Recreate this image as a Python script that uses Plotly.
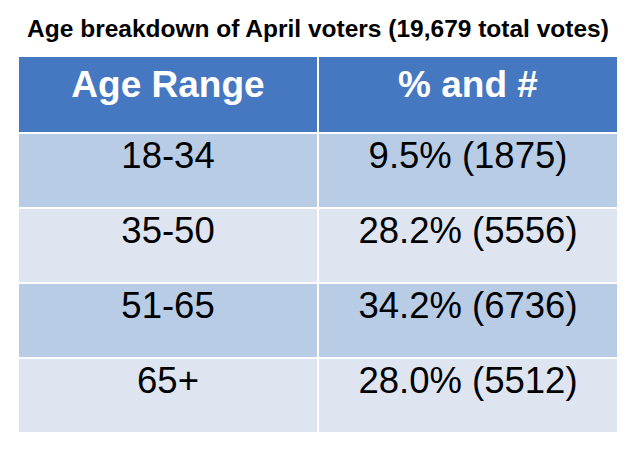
import plotly.graph_objects as go

title = "Age breakdown of April voters (19,679 total votes)"
headers = ["Age Range", "% and #"]
age_ranges = ["18-34", "35-50", "51-65", "65+"]
shares = ["9.5% (1875)", "28.2% (5556)", "34.2% (6736)", "28.0% (5512)"]

band_colors = ["#b9cce6", "#dee5f1", "#b9cce6", "#dee5f1"]

# page body has an 8px margin, so shift everything up/left by 8
off = 8

fig = go.Figure()
fig.add_trace(go.Table(
    domain=dict(x=[(18 - off) / 636, (618 - off) / 636], y=[0, 1 - (56 - off) / 452]),
    columnwidth=[1, 1],
    header=dict(
        values=["<b>" + h + "</b>" for h in headers],
        fill_color="#4677c1",
        line=dict(color="white", width=2.5),
        align="center",
        height=77,
        font=dict(family="Liberation Sans, Arial", size=37, color="white"),
    ),
    cells=dict(
        values=[age_ranges, shares],
        fill_color=[band_colors, band_colors],
        line=dict(color="white", width=2.5),
        align="center",
        height=75,
        font=dict(family="Liberation Sans, Arial", size=36.5, color="black"),
    ),
))

fig.update_layout(
    width=636, height=452,
    margin=dict(l=0, r=0, t=0, b=0),
    paper_bgcolor="white",
    title=dict(
        text="<b>" + title + "</b>",
        x=(318 - off) / 636, xanchor="center",
        y=1 - (28 - off) / 452, yanchor="middle",
        font=dict(family="Liberation Sans, Arial", size=24.5, color="black"),
    ),
)

fig.write_html("out.html")
